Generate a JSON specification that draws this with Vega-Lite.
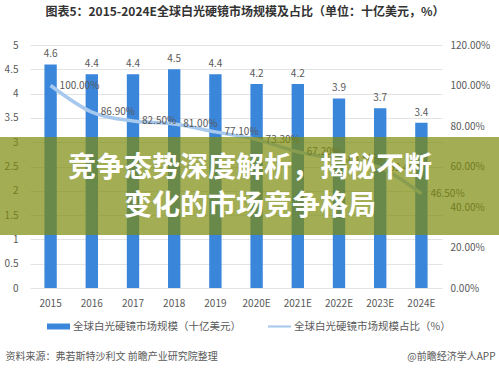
{
  "$schema": "https://vega.github.io/schema/vega-lite/v6.json",
  "width": 412,
  "height": 243,
  "autosize": {"type": "none"},
  "padding": {"left": 30, "top": 45, "right": 57, "bottom": 84},
  "background": "white",
  "config": {
    "font": "Noto Sans CJK SC",
    "view": {"stroke": null},
    "axis": {"labelFont": "Noto Sans CJK SC", "titleFont": "Noto Sans CJK SC"}
  },
  "title": {
    "text": "图表5：2015-2024E全球白光硬镜市场规模及占比（单位：十亿美元，%）",
    "fontSize": 12,
    "fontWeight": "bold",
    "color": "#333333",
    "anchor": "middle",
    "dx": 9,
    "offset": 21
  },
  "data": {
    "values": [
      {"year": "2015", "size": 4.6, "share": 1.0},
      {"year": "2016", "size": 4.4, "share": 0.869},
      {"year": "2017", "size": 4.4, "share": 0.825},
      {"year": "2018", "size": 4.5, "share": 0.81},
      {"year": "2019", "size": 4.4, "share": 0.771},
      {"year": "2020E", "size": 4.2, "share": 0.733},
      {"year": "2021E", "size": 4.2, "share": 0.672},
      {"year": "2022E", "size": 3.9, "share": 0.635},
      {"year": "2023E", "size": 3.7, "share": 0.594},
      {"year": "2024E", "size": 3.4, "share": 0.465}
    ]
  },
  "layer": [
    {
      "encoding": {
        "x": {
          "field": "year",
          "type": "nominal",
          "sort": null,
          "scale": {"paddingInner": 0.7, "paddingOuter": 0.35},
          "axis": {
            "labelAngle": 0,
            "ticks": false,
            "domain": false,
            "labelPadding": 10,
            "labelFontSize": 10,
            "labelColor": "#595959",
            "title": "资料来源：弗若斯特沙利文 前瞻产业研究院整理",
            "titleAnchor": "start",
            "titleAlign": "left",
            "titleX": -25,
            "titleY": 68,
            "titleBaseline": "middle",
            "titleFontSize": 10,
            "titleFontWeight": "normal",
            "titleColor": "#595959"
          }
        },
        "y": {
          "field": "size",
          "type": "quantitative",
          "scale": {"domain": [0, 5]},
          "axis": {
            "orient": "left",
            "values": [0, 0.5, 1, 1.5, 2, 2.5, 3, 3.5, 4, 4.5, 5],
            "format": "~g",
            "grid": true,
            "gridColor": "#e3e3e3",
            "domain": false,
            "ticks": false,
            "labelPadding": 12,
            "labelFontSize": 10,
            "labelColor": "#595959",
            "title": null
          }
        }
      },
      "layer": [
        {
          "mark": {"type": "bar", "width": {"band": 1}},
          "encoding": {
            "color": {
              "datum": "全球白光硬镜市场规模（十亿美元）",
              "scale": {
                "domain": ["全球白光硬镜市场规模（十亿美元）", "全球白光硬镜市场规模占比（%）"],
                "range": ["#3a86db", "#a8c9ee"]
              },
              "legend": {
                "title": null,
                "orient": "none",
                "direction": "horizontal",
                "legendX": 17,
                "legendY": 270,
                "symbolSize": 529,
                "symbolStrokeWidth": 0,
                "labelOffset": 3,
                "columnPadding": 27,
                "labelFontSize": 10.5,
                "labelColor": "#595959",
                "labelLimit": 300,
                "encode": {
                  "symbols": {
                    "update": {
                      "shape": {"signal": "datum.value === '全球白光硬镜市场规模（十亿美元）' ? 'M-1,-0.26H1V0.26H-1Z' : 'M-1,-0.09H1V0.09H-1Z'"},
                      "fill": {"scale": "color", "field": "value"},
                      "fillOpacity": {"value": 1},
                      "strokeWidth": {"value": 0}
                    }
                  }
                }
              }
            }
          }
        },
        {
          "mark": {"type": "text", "baseline": "bottom", "dy": -5, "fontSize": 10, "color": "#595959"},
          "encoding": {"text": {"field": "size", "type": "quantitative", "format": ".1f"}}
        }
      ]
    },
    {
      "encoding": {
        "x": {"field": "year", "type": "nominal", "sort": null},
        "y": {
          "field": "share",
          "type": "quantitative",
          "scale": {"domain": [0, 1.2]},
          "axis": {
            "orient": "right",
            "values": [0, 0.2, 0.4, 0.6, 0.8, 1.0, 1.2],
            "format": ".2%",
            "grid": false,
            "domain": false,
            "ticks": false,
            "labelPadding": 8,
            "labelFontSize": 10,
            "labelColor": "#595959",
            "title": "@前瞻经济学人APP",
            "titleAngle": 0,
            "titleAlign": "right",
            "titleX": 53,
            "titleY": 311,
            "titleBaseline": "middle",
            "titleFontSize": 10,
            "titleFontWeight": "normal",
            "titleColor": "#595959"
          }
        }
      },
      "layer": [
        {
          "mark": {"type": "line", "interpolate": "monotone", "strokeWidth": 3.5},
          "encoding": {
            "color": {"datum": "全球白光硬镜市场规模占比（%）"}
          }
        },
        {
          "mark": {"type": "text", "align": "left", "baseline": "middle", "dx": 9, "fontSize": 10, "color": "#595959"},
          "encoding": {"text": {"field": "share", "type": "quantitative", "format": ".2%"}}
        }
      ]
    },
    {
      "data": {"values": [{"banner": "overlay", "headline": "竞争态势深度解析，揭秘不断\n变化的市场竞争格局"}]},
      "encoding": {
        "y": {"datum": 3.107, "type": "quantitative", "scale": {"domain": [0, 5]}, "axis": null}
      },
      "layer": [
        {
          "mark": {"type": "rect", "color": "#7c8a0c", "opacity": 0.7},
          "encoding": {
            "x": {"value": -30},
            "x2": {"value": 469},
            "y2": {"datum": 1.09}
          }
        },
        {
          "mark": {"type": "text", "lineBreak": "\n", "lineHeight": 38, "fontSize": 28, "fontWeight": "bold", "color": "white", "align": "center", "baseline": "middle", "dx": 14, "dy": 32},
          "encoding": {
            "text": {"field": "headline", "type": "nominal"}
          }
        }
      ]
    }
  ],
  "resolve": {"scale": {"y": "independent"}}
}
